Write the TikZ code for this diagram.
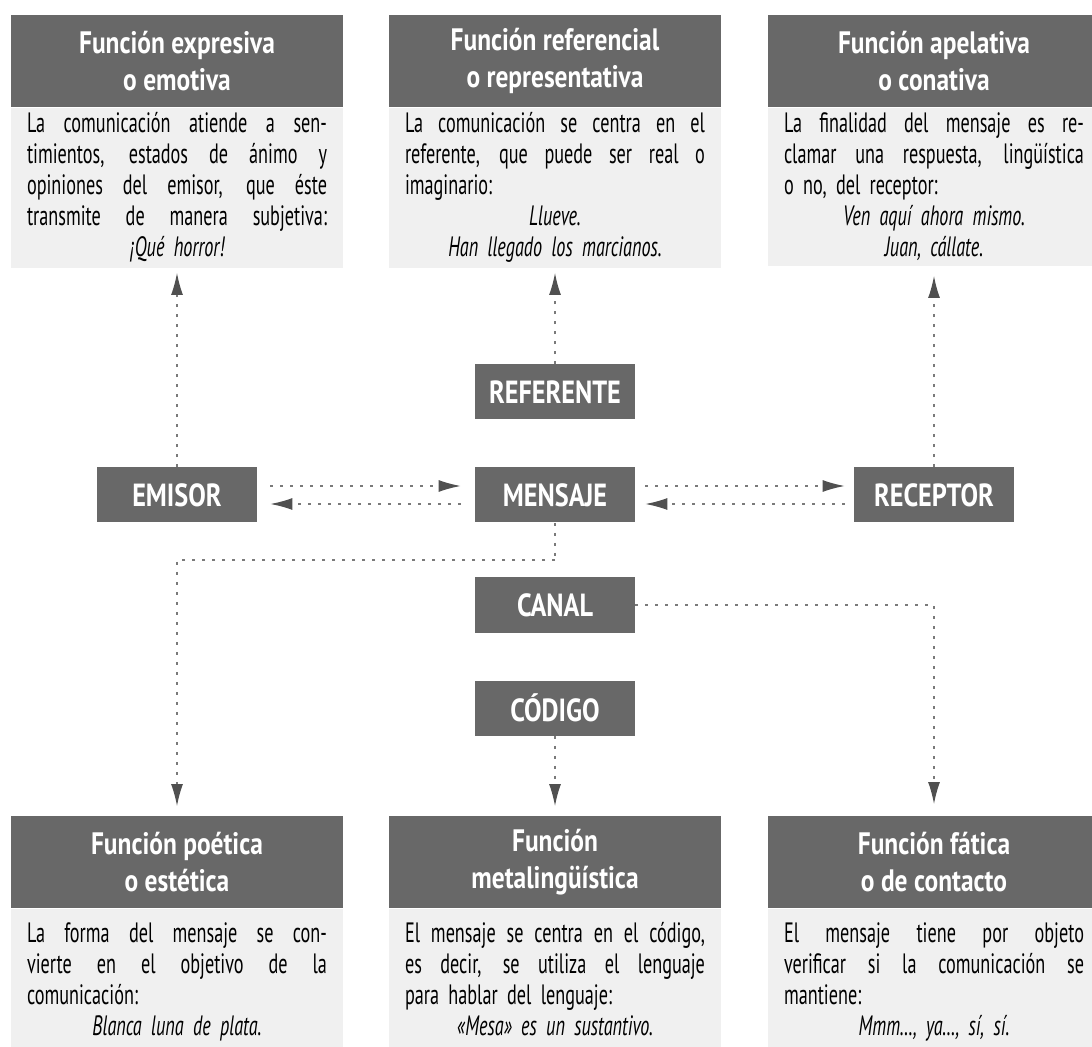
\documentclass[tikz,border=0pt]{standalone}
\usepackage{fontspec}
\setmainfont{PT Sans}
\newfontfamily\condf{PT Sans}[FakeStretch=0.82]
\newfontfamily\bodyf{PT Sans}[FakeStretch=0.65]
\usetikzlibrary{arrows.meta}
\definecolor{hdr}{HTML}{686868}
\definecolor{bodyfill}{HTML}{F0F0F0}
\definecolor{lnc}{HTML}{7A7A7A}
\definecolor{tipc}{HTML}{505050}
\newcommand{\jl}[1]{\makebox[\linewidth][s]{\spaceskip=0.25em plus 1fil\relax#1}}
\newcommand{\lastl}[1]{\makebox[\linewidth][l]{#1}}
\newcommand{\exl}[1]{\makebox[\linewidth][c]{\itshape #1}}
\tikzset{
  hdrbox/.style={rectangle, fill=hdr, text=white, minimum width=166pt, minimum height=46pt,
    inner sep=0pt, align=center, font=\condf\bfseries\fontsize{15.5}{18.5}\selectfont},
  bodybox/.style={rectangle, fill=bodyfill, anchor=north, text width=150pt, inner xsep=8pt,
    inner ysep=2.5pt, align=left, font=\bodyf\fontsize{14}{15.5}\selectfont},
  bodylow/.style={bodybox, inner ysep=7pt},
  midbox/.style={rectangle, fill=hdr, text=white, minimum width=80pt, minimum height=27.5pt,
    inner sep=0pt, font=\condf\bfseries\fontsize{16}{18}\selectfont},
  conn/.style={draw=lnc, line width=0.6pt, dash pattern=on 1.5pt off 3.5pt},
  tipped/.style={-{Latex[length=11pt,width=6pt,fill=tipc,color=tipc]}}
}
\begin{document}
\begin{tikzpicture}[x=0.5pt,y=-0.5pt]
\fill[white] (0,0) rectangle (1092,1047);
\useasboundingbox (0,0) rectangle (1092,1047);
\clip (0,0) rectangle (1092,1047);

% top row
\node[hdrbox] (h1) at (177,61) {Función expresiva\\o emotiva};
\node[bodybox] (b1) at (h1.south) {\jl{La comunicación atiende a sen-}\\
\jl{timientos, estados de ánimo y}\\
\jl{opiniones del emisor, que éste}\\
\jl{transmite de manera subjetiva:}\\
\exl{¡Qué horror!}};

\node[hdrbox] (h2) at (555,61) {Función referencial\\o representativa};
\node[bodybox] (b2) at (h2.south) {\jl{La comunicación se centra en el}\\
\jl{referente, que puede ser real o}\\
\lastl{imaginario:}\\
\exl{Llueve.}\\
\exl{Han llegado los marcianos.}};

\node[hdrbox] (h3) at (934,61) {Función apelativa\\o conativa};
\node[bodybox] (b3) at (h3.south) {\jl{La finalidad del mensaje es re-}\\
\jl{clamar una respuesta, lingüística}\\
\lastl{o no, del receptor:}\\
\exl{Ven aquí ahora mismo.}\\
\exl{Juan, cállate.}};

% bottom row
\node[hdrbox] (h4) at (177,862) {Función poética\\o estética};
\node[bodylow] (b4) at (h4.south) {\jl{La forma del mensaje se con-}\\
\jl{vierte en el objetivo de la}\\
\lastl{comunicación:}\\
\exl{Blanca luna de plata.}};

\node[hdrbox] (h5) at (555,862) {Función\\metalingüística};
\node[bodylow] (b5) at (h5.south) {\jl{El mensaje se centra en el código,}\\
\jl{es decir, se utiliza el lenguaje}\\
\lastl{para hablar del lenguaje:}\\
\exl{«Mesa» es un sustantivo.}};

\node[hdrbox] (h6) at (934,862) {Función fática\\o de contacto};
\node[bodylow] (b6) at (h6.south) {\jl{El mensaje tiene por objeto}\\
\jl{verificar si la comunicación se}\\
\lastl{mantiene:}\\
\exl{Mmm…, ya…, sí, sí.}};

% middle nodes
\node[midbox] (referente) at (555,392) {REFERENTE};
\node[midbox] (emisor) at (177,495) {EMISOR};
\node[midbox] (mensaje) at (555,495) {MENSAJE};
\node[midbox] (receptor) at (934,495) {RECEPTOR};
\node[midbox] (canal) at (555,605) {CANAL};
\node[midbox] (codigo) at (555,708) {CÓDIGO};

% free ends
\coordinate (t1) at (177,273);
\coordinate (t2) at (555,273);
\coordinate (t3) at (934,276);
\coordinate (j) at (555,560);
\coordinate (d1) at (177,806);
\coordinate (d2) at (555,806);
\coordinate (d3) at (934,804);

% connectors
\draw[conn,tipped] (emisor.north) -- (t1);
\draw[conn,tipped] (referente.north) -- (t2);
\draw[conn,tipped] (receptor.north) -- (t3);
\draw[conn,tipped,shorten <=6.5pt,shorten >=7pt] ([yshift=4.5pt]emisor.east) -- ([yshift=4.5pt]mensaje.west);
\draw[conn,tipped,shorten <=7pt,shorten >=6.5pt] ([yshift=-4.5pt]mensaje.west) -- ([yshift=-4.5pt]emisor.east);
\draw[conn,tipped,shorten <=5pt,shorten >=4.5pt] ([yshift=4.5pt]mensaje.east) -- ([yshift=4.5pt]receptor.west);
\draw[conn,tipped,shorten <=4.5pt,shorten >=5pt] ([yshift=-4.5pt]receptor.west) -- ([yshift=-4.5pt]mensaje.east);
\draw[conn] (mensaje.south) -- (j);
\draw[conn,tipped] (j) -| (d1);
\draw[conn,tipped] (canal.east) -| (d3);
\draw[conn,tipped] (codigo.south) -- (d2);
\end{tikzpicture}
\end{document}
